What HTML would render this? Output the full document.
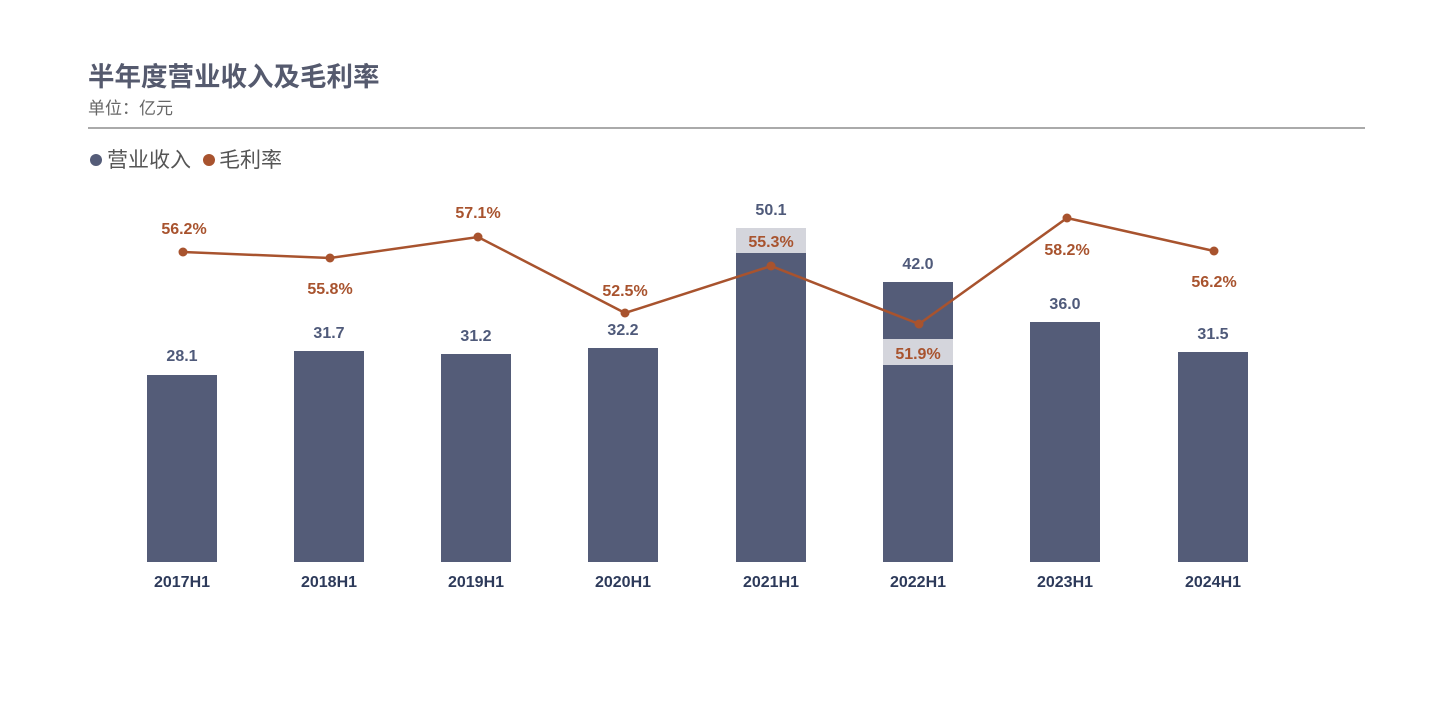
<!DOCTYPE html>
<html><head><meta charset="utf-8"><style>
html,body{margin:0;padding:0;background:#fff;}
svg{display:block;font-family:"Liberation Sans","Noto Sans CJK SC",sans-serif;}
</style></head><body>
<svg width="1452" height="702" viewBox="0 0 1452 702" xmlns="http://www.w3.org/2000/svg">
<text x="88" y="86" font-size="26.5" font-weight="bold" fill="#555a6e">半年度营业收入及毛利率</text>
<text x="88" y="114" font-size="17" fill="#666">单位：亿元</text>
<line x1="88" y1="128" x2="1365" y2="128" stroke="#aaa" stroke-width="2"/>
<circle cx="96" cy="160" r="6" fill="#545c78"/>
<text x="107" y="167" font-size="21" fill="#555">营业收入</text>
<circle cx="209" cy="160" r="6" fill="#a8532e"/>
<text x="219" y="167" font-size="21" fill="#555">毛利率</text>
<g fill="#545c78">
<rect x="147" y="375" width="70" height="187"/>
<rect x="294" y="351" width="70" height="211"/>
<rect x="441" y="354" width="70" height="208"/>
<rect x="588" y="348" width="70" height="214"/>
<rect x="736" y="228" width="70" height="334"/>
<rect x="883" y="282" width="70" height="280"/>
<rect x="1030" y="322" width="70" height="240"/>
<rect x="1178" y="352" width="70" height="210"/>
</g>
<rect x="736" y="228" width="70" height="25" fill="#d4d5dc"/>
<rect x="883" y="339" width="70" height="26" fill="#d4d5dc"/>
<g font-size="16" font-weight="bold" fill="#4f5a7a" text-anchor="middle">
<text x="182" y="361">28.1</text>
<text x="329" y="338">31.7</text>
<text x="476" y="341">31.2</text>
<text x="623" y="335">32.2</text>
<text x="771" y="215">50.1</text>
<text x="918" y="269">42.0</text>
<text x="1065" y="309">36.0</text>
<text x="1213" y="339">31.5</text>
</g>
<polyline points="183,252 330,258 478,237 625,313 771,266 919,324 1067,218 1214,251" fill="none" stroke="#a8532e" stroke-width="2.5"/>
<g fill="#a8532e">
<circle cx="183" cy="252" r="4.5"/><circle cx="330" cy="258" r="4.5"/><circle cx="478" cy="237" r="4.5"/>
<circle cx="625" cy="313" r="4.5"/><circle cx="771" cy="266" r="4.5"/><circle cx="919" cy="324" r="4.5"/>
<circle cx="1067" cy="218" r="4.5"/><circle cx="1214" cy="251" r="4.5"/>
</g>
<g font-size="16" font-weight="bold" fill="#a8532e" text-anchor="middle">
<text x="184" y="234">56.2%</text>
<text x="330" y="294">55.8%</text>
<text x="478" y="218">57.1%</text>
<text x="625" y="296">52.5%</text>
<text x="771" y="247">55.3%</text>
<text x="918" y="359">51.9%</text>
<text x="1067" y="255">58.2%</text>
<text x="1214" y="287">56.2%</text>
</g>
<g font-size="16" font-weight="bold" fill="#2d3a5a" text-anchor="middle">
<text x="182" y="587">2017H1</text>
<text x="329" y="587">2018H1</text>
<text x="476" y="587">2019H1</text>
<text x="623" y="587">2020H1</text>
<text x="771" y="587">2021H1</text>
<text x="918" y="587">2022H1</text>
<text x="1065" y="587">2023H1</text>
<text x="1213" y="587">2024H1</text>
</g>
</svg>
</body></html>
